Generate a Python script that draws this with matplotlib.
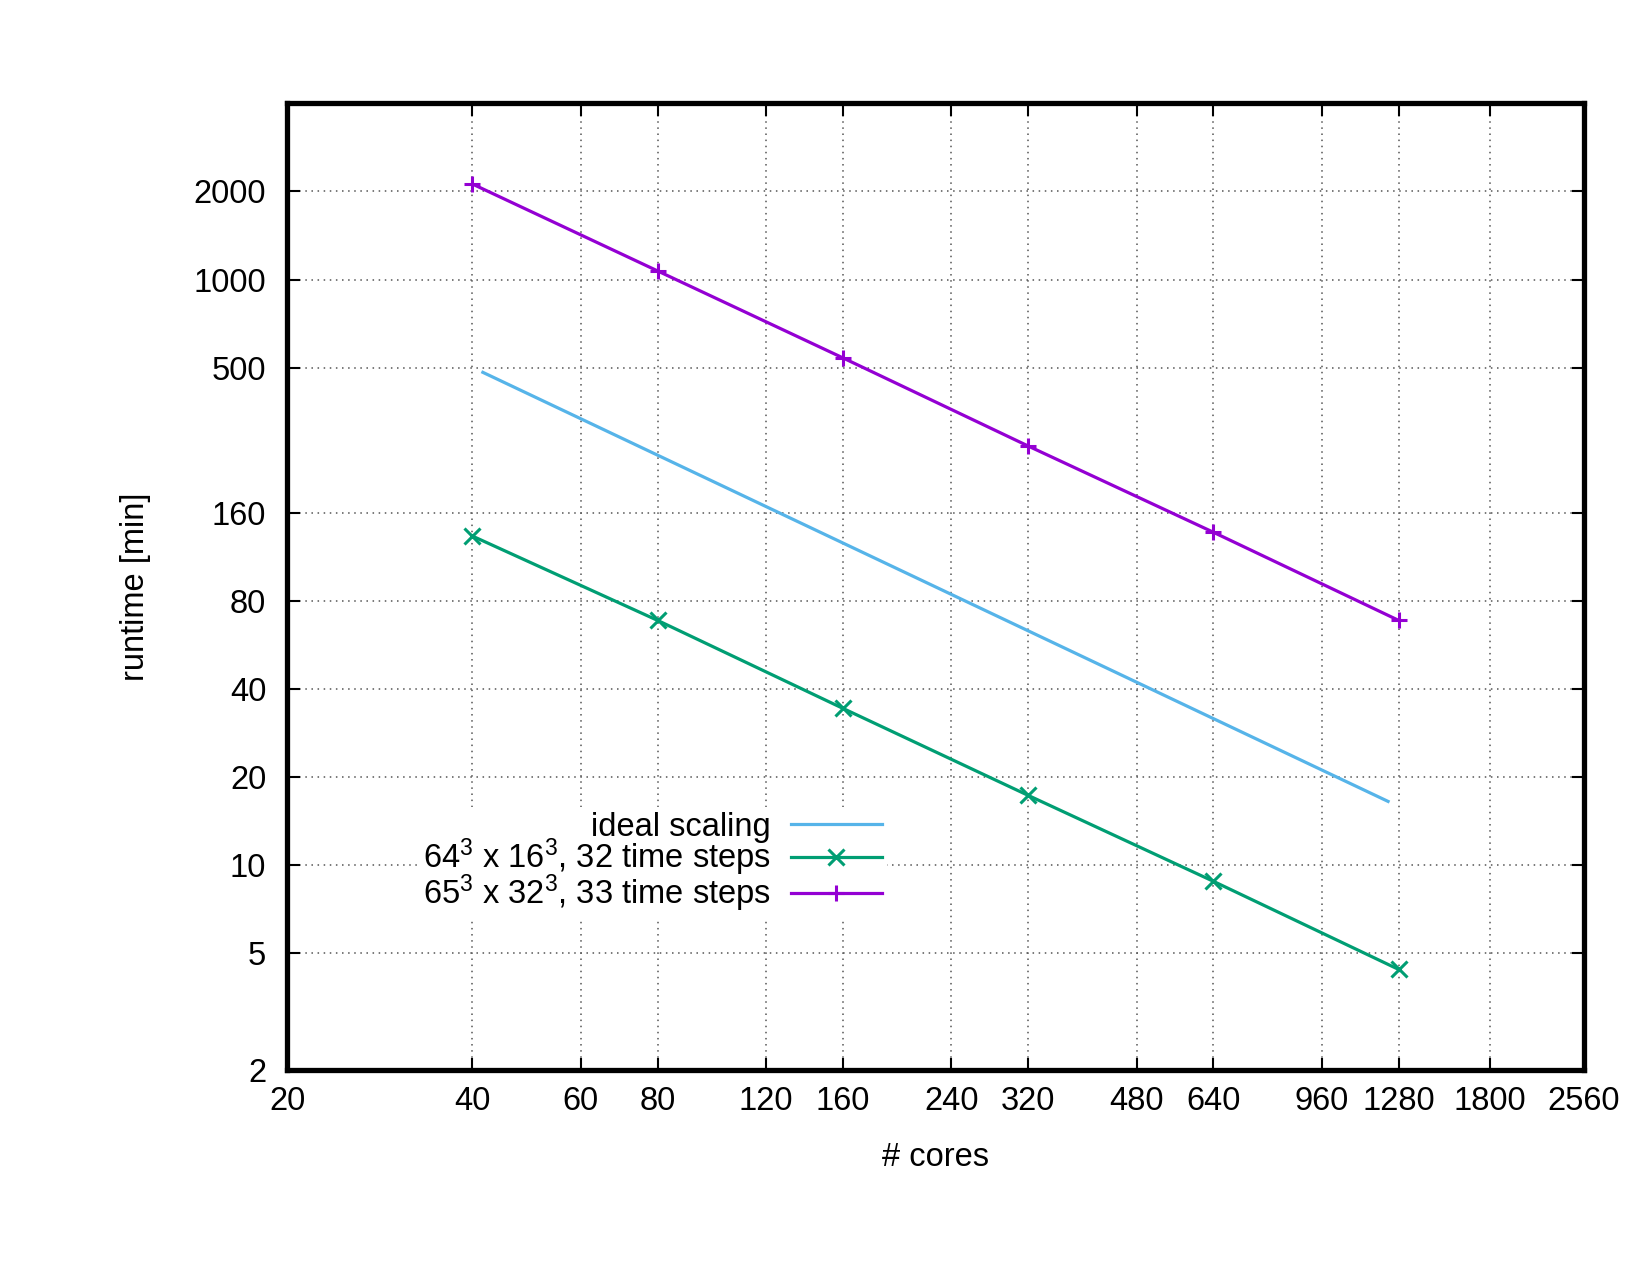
import numpy as np
import matplotlib
matplotlib.use("Agg")
import matplotlib.pyplot as plt

plt.rcParams['font.family'] = ['Liberation Sans', 'DejaVu Sans']
plt.rcParams['mathtext.default'] = 'regular'

# data
cores = [40, 80, 160, 320, 640, 1280]
runtime_64 = [133, 68.5, 34.3, 17.3, 8.8, 4.4]
runtime_65 = [2120, 1070, 540, 270, 137, 68.5]
ideal_cores = [41.6, 1230]
ideal_runtime = [482, 16.5]

xticks = [20, 40, 60, 80, 120, 160, 240, 320, 480, 640, 960, 1280, 1800, 2560]
yticks = [2, 5, 10, 20, 40, 80, 160, 500, 1000, 2000]

fs = 23.5

fig = plt.figure(figsize=(16.5, 12.75), dpi=100)
ax = fig.add_axes([0.174, 0.161, 0.786, 0.758])

ax.plot(ideal_cores, ideal_runtime, color='#56b4e9', lw=2.3, label='ideal scaling')
ax.plot(cores, runtime_64, color='#009e73', lw=2.3, marker='x', ms=11, mew=2.2,
        label='64$^3$ x 16$^3$, 32 time steps')
ax.plot(cores, runtime_65, color='#9400d3', lw=2.3, marker='+', ms=12, mew=2.2,
        label='65$^3$ x 32$^3$, 33 time steps')

ax.set_xscale('log')
ax.set_yscale('log')
ax.set_xlim(20, 2560)
ax.set_ylim(2, 4000)
ax.set_xticks(xticks)
ax.set_xticklabels([str(t) for t in xticks])
ax.set_yticks(yticks)
ax.set_yticklabels([str(t) for t in yticks])
ax.minorticks_off()

ax.tick_params(which='major', direction='in', length=9, width=1.5,
               top=True, right=True, labelsize=fs)
ax.tick_params(axis='y', pad=15)
ax.tick_params(axis='x', pad=12)
for s in ax.spines.values():
    s.set_linewidth(3.8)

ax.grid(True, which='major', ls=(0, (1, 3)), color='#555555', lw=1.1)

ax.set_xlabel('# cores', fontsize=fs, labelpad=18)
ax.set_ylabel('runtime [min]', fontsize=fs, labelpad=31)

leg = ax.legend(loc='upper right', bbox_to_anchor=(0.475, 0.289), markerfirst=False,
                fontsize=fs, frameon=True, fancybox=False, edgecolor='none',
                facecolor='white', framealpha=1, handlelength=2.8,
                handletextpad=0.6, labelspacing=-0.18, borderpad=0.15)
for t in leg.get_texts():
    t.set_ha('right')

fig.savefig('out.png', dpi=100)
